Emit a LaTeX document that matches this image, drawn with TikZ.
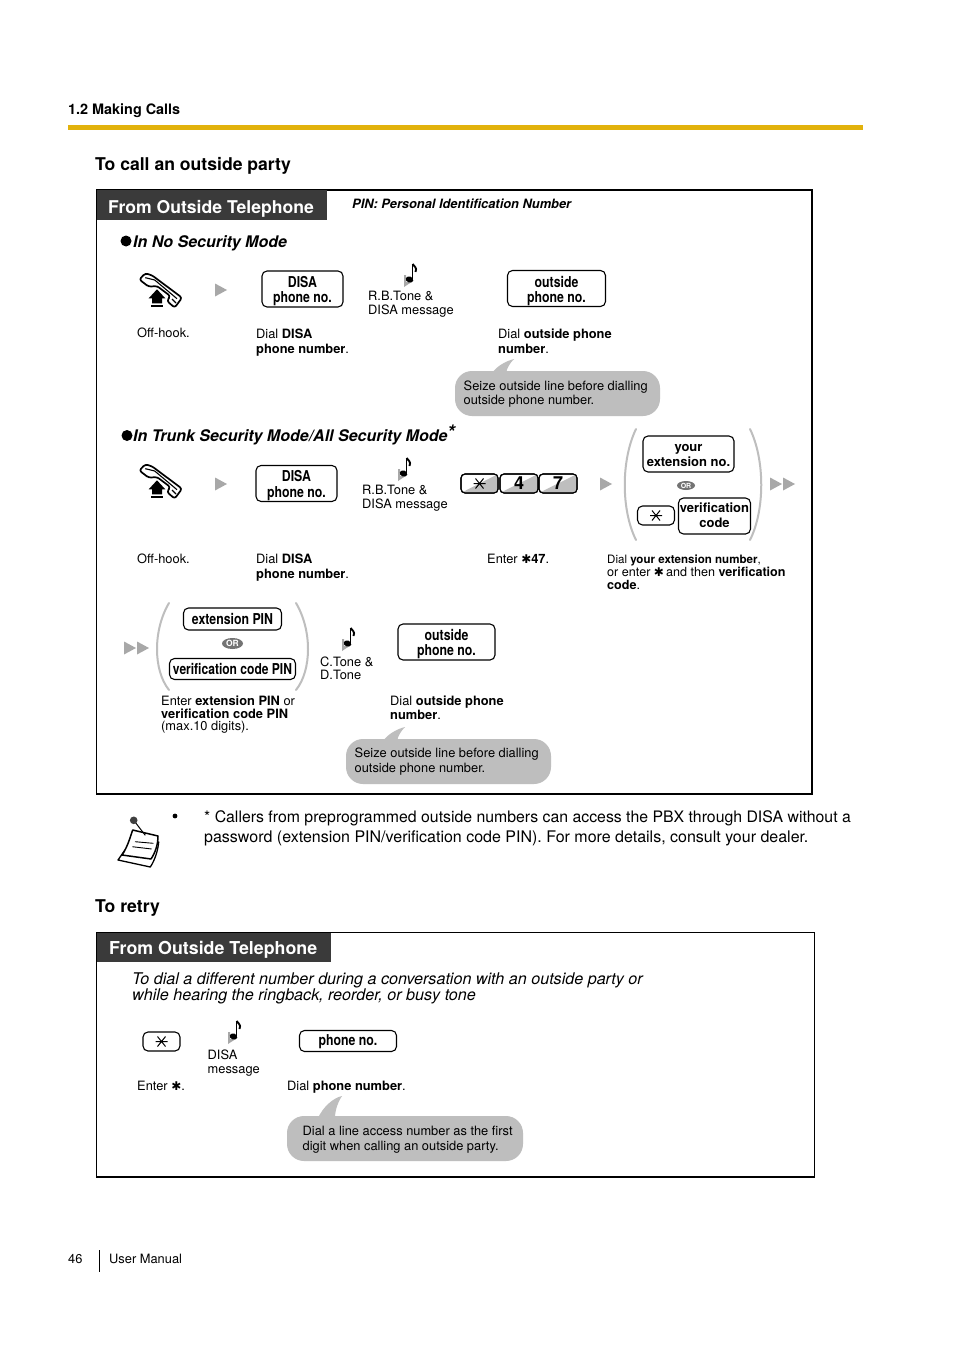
\documentclass[tikz,border=0pt]{standalone}
\usepackage{fontspec}
\usetikzlibrary{shapes.geometric}
\setmainfont{TeX Gyre Heros}
\newfontfamily\djv{DejaVu Sans}
\newcommand\fs[2]{\fontsize{#1}{#2}\selectfont}
\newcommand\kt[1]{\scalebox{.82}[1]{\bfseries #1}}
\newcommand\st{{\djv\fontsize{12}{12}\selectfont ✱}}
\definecolor{gold}{HTML}{E2B20C}
\definecolor{dark}{HTML}{3A3A3A}
\definecolor{bub}{HTML}{BEBEBE}
\definecolor{tri}{HTML}{A8A8A8}
\tikzset{
 lbl/.style={anchor=west,inner sep=0pt,align=left,font=\fs{12.85}{15}},
 keybox/.style={draw=black,line width=1.1pt,rounded corners=5pt,fill=white,inner sep=0pt},
 keytext/.style={inner sep=0pt,align=center,font=\fs{15}{15.5}},
 frameb/.style={draw=black,line width=1.5pt},
 headb/.style={fill=dark,draw=none},
 headt/.style={anchor=west,inner sep=0pt,text=white,font=\fs{17.6}{20}\bfseries},
 title/.style={anchor=west,inner sep=0pt,font=\fs{17.6}{20}\bfseries},
 mode/.style={anchor=west,inner sep=0pt,font=\fs{16}{18}\bfseries\itshape},
 bubble/.style={fill=bub,draw=none,rounded corners=17pt},
 paren/.style={draw=bub,line width=2pt,line cap=round},
 orpill/.style={ellipse,fill=black!55,inner sep=0pt,text=white,font=\bfseries},
 phonepic/.pic={
  \draw[black,line width=1.7pt,fill=white,line join=round,rounded corners=2.5pt]
   (1.3,7.5)--(7.3,1.3)--(14,3.3)--(44,25.7)--(36.7,35.7)--(29,29)--(32.3,24)--(19,14)--(10.7,14.7)--cycle;
  \draw[black,line width=1.1pt] (7.3,5.7)--(16.7,8)--(39,26.7);
  \draw[black,line width=1.1pt] (34,27)--(38,31);
  \fill[black] (19,17.3)--(27.3,26.3)--(24,26.3)--(24,31.3)--(14,31.3)--(14,26.3)--(10.7,26.3)--cycle;
  \draw[black,line width=1.2pt] (13.3,34)--(24.7,34);
 },
 notepic/.pic={
  \fill[tri] (-5,-1)--(-3,-1)--(-3,6)--(5,4.5)--(-5,11)--cycle;
  \fill[black,rotate around={-20:(0.5,3.5)}] (0.5,3.5) ellipse (3.8pt and 3pt);
  \draw[black,line width=1.7pt] (3.6,3.5)--(3.6,-12);
  \draw[black,line width=1.9pt] (3.6,-12) .. controls (5,-9) and (8.5,-9) .. (6.5,-4);
 },
 starpic/.pic={
  \draw[black,line width=1pt] (-6,0)--(6,0) (-4,-5)--(4,5) (-4,5)--(4,-5);
 },
}
\newcommand\keyb[7]{\node[keybox,minimum width=#4pt,minimum height=#5pt](#1) at (#2,#3){};
 \node[keytext](#1t) at (#2,#3+#7){#6};}
\newcommand\tria[2]{\fill[tri] (#1,#2-6.5)--(#1+12,#2)--(#1,#2+6.5)--cycle;}
\begin{document}
\begin{tikzpicture}[x=1pt,y=-1pt]
\fill[white] (0,0) rectangle (954,1351);
\useasboundingbox (0,0) rectangle (954,1351);
% page head
\node[anchor=west,inner sep=0pt,font=\fs{14.4}{16}\bfseries] (sect) at (68,111) {1.2 Making Calls};
\fill[gold] (68,125) rectangle (863,130);
\node[title] (t1) at (95,166) {To call an outside party};
% frame 1
\draw[frameb] (96.7,190) rectangle (812,794);
\fill[headb] (97,190) rectangle (327,220);
\node[headt] (h1) at (108,209) {From Outside Telephone};
\node[anchor=west,inner sep=0pt,font=\fs{12.85}{14}\bfseries\itshape] (pin) at (352,204) {PIN: Personal Identification Number};
% no security
\fill[black] (126,241) circle (5.5pt);
\node[mode] (m1) at (133,243) {In No Security Mode};
\pic at (138,272) {phonepic};
\tria{215}{290}
\keyb{k1}{302.5}{289}{81}{36}{\kt{DISA}\\\kt{phone no.}}{2}
\pic at (409,276) {notepic};
\node[lbl,font=\fs{12.85}{14}] (l1) at (368,304.5) {R.B.Tone \&\\DISA message};
\keyb{k2}{556.5}{288.5}{98}{36}{\kt{outside}\\\kt{phone no.}}{2.5}
\node[lbl] (l2) at (137,333) {Off-hook.};
\node[lbl] (l3) at (256,342.5) {Dial \textbf{DISA}\\\textbf{phone number}.};
\node[lbl] (l4) at (498,341) {Dial \textbf{outside phone}\\\textbf{number}.};
\fill[bub] (492,373) .. controls (497,366) and (506,361) .. (514,359) .. controls (510,363) and (507,368) .. (506,373) -- cycle;
\fill[bubble] (455,371) rectangle (660,416);
\node[lbl,font=\fs{12.85}{14}] (b1) at (463.5,394.5) {Seize outside line before dialling\\outside phone number.};
% trunk security
\fill[black] (127,435.5) circle (5.5pt);
\node[mode] (m2) at (133,437) {In Trunk Security Mode/All Security Mode};
\node[anchor=west,inner sep=0pt,font=\fs{20}{20}\bfseries\itshape] (m2s) at (447,432) {*};
\pic at (138,463) {phonepic};
\tria{215}{484}
\keyb{k3}{296.5}{483.5}{81}{36}{\kt{DISA}\\\kt{phone no.}}{2}
\pic at (403,470) {notepic};
\node[lbl,font=\fs{12.85}{14}] (l5) at (362,498.5) {R.B.Tone \&\\DISA message};
\foreach \nm/\xa/\xb/\tx in {s/461/498/{},f/500/538/4,v/539/577/7}{
 \draw[black,line width=1.1pt,rounded corners=4pt,fill=white] (\xa,474) rectangle (\xb,493);
 \fill[bub] (\xa+1,492.4) -- (\xb-1,474.6) -- (\xb-1,492.4) -- cycle;
 \draw[black,line width=1.1pt,rounded corners=4pt] (\xa,474) rectangle (\xb,493);
 \node[inner sep=0pt,font=\fs{18}{18}\bfseries] (d\nm) at ({(\xa+\xb)/2},483.5) {\tx};
}
\pic at (479.5,483.5) {starpic};
\tria{600}{484}
\draw[paren] (636,429) .. controls (621,460) and (621,510) .. (636,540);
\draw[paren] (750,429) .. controls (765,460) and (765,510) .. (750,540);
\keyb{k4}{688.5}{454}{91}{36}{\fs{13}{15}\bfseries your\\\fs{13}{15}\bfseries extension no.}{1.5}
\node[orpill,minimum width=18pt,minimum height=9pt,font=\fs{7}{7}\bfseries] (or1) at (686,485.5) {OR};
\keyb{k5}{656}{515.5}{37}{19}{}{0}
\pic at (656,515.5) {starpic};
\keyb{k6}{714.5}{516}{72}{36}{\fs{13}{15}\bfseries verification\\\fs{13}{15}\bfseries code}{-1}
\node[lbl] (l6) at (137,559) {Off-hook.};
\node[lbl] (l7) at (256,568) {Dial \textbf{DISA}\\\textbf{phone number}.};
\node[lbl] (l8) at (487,559) {Enter \st\textbf{47}.};
\node[anchor=west,inner sep=0pt,font=\fs{11.55}{13}] (l9a) at (607,560) {Dial \textbf{your extension number},};
\node[anchor=west,inner sep=0pt,font=\fs{12.6}{13}] (l9b) at (607,572) {or enter \st\,and then \textbf{verification}};
\node[anchor=west,inner sep=0pt,font=\fs{12.6}{13}] (l9c) at (607,585) {\textbf{code}.};
\tria{770}{484}\tria{783}{484}
\tria{124}{648}\tria{137}{648}
\draw[paren] (169,603) .. controls (153,630) and (153,670) .. (169,690);
\draw[paren] (296,603) .. controls (312,630) and (312,670) .. (296,690);
\keyb{k7}{232.5}{619}{98}{22}{\kt{extension PIN}}{0}
\node[orpill,minimum width=21pt,minimum height=11pt,font=\fs{8.5}{8.5}\bfseries] (or2) at (232.5,643.5) {OR};
\keyb{k8}{232.5}{669}{126}{21}{\scalebox{.98}[1]{\kt{verification code PIN}}}{0}
\pic at (347,640) {notepic};
\node[lbl,font=\fs{12.85}{13.5}] (l10) at (320,668.5) {C.Tone \&\\D.Tone};
\keyb{k9}{446.5}{642}{97}{36}{\kt{outside}\\\kt{phone no.}}{2}
\node[lbl,font=\fs{12.85}{12.6}] (l11) at (161,715) {Enter \textbf{extension PIN} or\\\textbf{verification code PIN}\\(max.10 digits).};
\node[lbl,font=\fs{12.85}{14}] (l12) at (390,707.5) {Dial \textbf{outside phone}\\\textbf{number}.};
\fill[bub] (383,741) .. controls (388,734) and (397,729) .. (405,727) .. controls (401,731) and (398,736) .. (397,741) -- cycle;
\fill[bubble] (346,739) rectangle (551,784);
\node[lbl] (b2) at (354.5,762) {Seize outside line before dialling\\outside phone number.};
% note
\fill[black] (175,816) circle (2.4pt);
\node[anchor=west,inner sep=0pt,font=\fs{15.83}{20}] (note1) at (204,818) {* Callers from preprogrammed outside numbers can access the PBX through DISA without a};
\node[anchor=west,inner sep=0pt,font=\fs{16}{20}] (note2) at (204,838) {password (extension PIN/verification code PIN). For more details, consult your dealer.};
% note icon
\draw[black,line width=1.3pt,fill=white,line join=round] (125,850)--(118,860)--(150.3,867) .. controls (155,860) and (158,850) .. (158.7,842) -- cycle;
\draw[black,line width=1.5pt,fill=white,line join=round] (132.7,830)--(158,836) .. controls (158,845) and (155,853) .. (151,859)--(122,855) .. controls (127,848) and (130,838) .. cycle;
\draw[black,line width=.9pt] (135,841.7)--(153.3,843.3) (132.3,846.7)--(151.7,849);
\draw[black,line width=1pt] (133.7,820.3)--(145.3,835.3);
\fill[black!75] (133.7,820.3) circle (3.8pt);
% retry
\node[title] (t2) at (95,908) {To retry};
\draw[frameb] (96.7,932.5) rectangle (814.5,1177);
\fill[headb] (97,933) rectangle (331,962);
\node[headt,font=\fs{17.8}{20}\bfseries] (h2) at (109,950) {From Outside Telephone};
\node[anchor=west,inner sep=0pt,align=left,font=\fs{16.13}{16}\itshape] (t3) at (132,988) {To dial a different number during a conversation with an outside party or\\while hearing the ringback, reorder, or busy tone};
\keyb{k10}{161.5}{1041.5}{37}{19}{}{0}
\pic at (161.5,1041.5) {starpic};
\pic at (233,1033) {notepic};
\node[lbl,font=\fs{12.85}{13.5}] (l13) at (207.5,1063) {DISA\\message};
\keyb{k11}{348}{1041}{97}{21}{\kt{phone no.}}{1}
\node[lbl] (l14) at (137,1086) {Enter \st.};
\node[lbl] (l15) at (287,1087) {Dial \textbf{phone number}.};
\fill[bub] (318,1118) .. controls (323,1107) and (333,1098) .. (342,1096) .. controls (338,1102) and (335,1110) .. (335,1118) -- cycle;
\fill[bubble] (287,1116) rectangle (523,1161);
\node[lbl] (b3) at (302.5,1140) {Dial a line access number as the first\\digit when calling an outside party.};
% foot
\node[anchor=west,inner sep=0pt,font=\fs{12.85}{14}] (pg) at (68,1259) {46};
\draw[black,line width=.8pt] (99.5,1250)--(99.5,1272);
\node[anchor=west,inner sep=0pt,font=\fs{12.85}{14}] (um) at (109,1259) {User Manual};
\end{tikzpicture}
\end{document}
